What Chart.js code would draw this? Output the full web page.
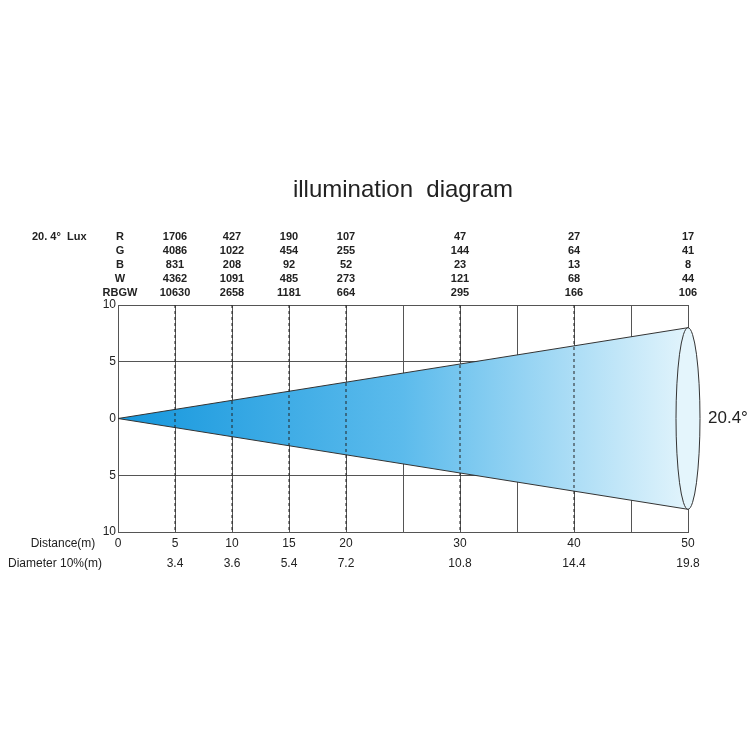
<!DOCTYPE html>
<html>
<head>
<meta charset="utf-8">
<script src="https://cdn.jsdelivr.net/npm/chart.js@4.4.0/dist/chart.umd.min.js"></script>
<style>
  body { margin: 0; background: #fff; }
  #wrap { width: 750px; height: 750px; }
</style>
</head>
<body>
<div id="wrap"><canvas id="c" width="750" height="750"></canvas></div>
<script>
// Beam table data
const distances = [5, 10, 15, 20, 30, 40, 50];
const luxR = [1706, 427, 190, 107, 47, 27, 17];
const luxG = [4086, 1022, 454, 255, 144, 64, 41];
const luxB = [831, 208, 92, 52, 23, 13, 8];
const luxW = [4362, 1091, 485, 273, 121, 68, 44];
const luxRBGW = [10630, 2658, 1181, 664, 295, 166, 106];
const diameters = ['3.4', '3.6', '5.4', '7.2', '10.8', '14.4', '19.8'];
const distanceTicks = [0, 5, 10, 15, 20, 30, 40, 50];
const yTicks = [10, 5, 0, -5, -10];
const coneTop = [{x: 0, y: 0}, {x: 50, y: 8}];
const coneBottom = [{x: 0, y: 0}, {x: 50, y: -8}];

const rows = [['R', luxR], ['G', luxG], ['B', luxB], ['W', luxW], ['RBGW', luxRBGW]];

function coneFill(context) {
    const a = context.chart.chartArea;
    if (!a) return '#5fbbec';
    const g = context.chart.ctx.createLinearGradient(a.left, 0, a.right, 0);
    g.addColorStop(0, '#1597dd');
    g.addColorStop(0.5, '#5cbbec');
    g.addColorStop(1, '#e2f4fc');
    return g;
}

const overlay = {
    id: 'overlay',
    afterDatasetsDraw(chart) {
        const ctx = chart.ctx, a = chart.chartArea;
        const xs = chart.scales.x, ys = chart.scales.y;
        ctx.save();
        // ellipse at far end
        const cx = xs.getPixelForValue(50);
        const ry = (ys.getPixelForValue(-8) - ys.getPixelForValue(8)) / 2;
        ctx.fillStyle = '#e4f5fc';
        ctx.strokeStyle = '#333';
        ctx.lineWidth = 1;
        ctx.beginPath();
        ctx.ellipse(cx, ys.getPixelForValue(0), 12, ry, 0, 0, Math.PI * 2);
        ctx.fill();
        ctx.stroke();
        // dashed distance lines
        ctx.setLineDash([3, 3]);
        ctx.strokeStyle = '#222';
        distances.slice(0, -1).forEach(d => {
            const x = xs.getPixelForValue(d);
            ctx.beginPath();
            ctx.moveTo(x, a.top);
            ctx.lineTo(x, a.bottom);
            ctx.stroke();
        });
        ctx.setLineDash([]);
        ctx.fillStyle = '#222';
        // y tick labels
        ctx.font = '12px Arial, "Liberation Sans"';
        ctx.textAlign = 'right';
        ctx.textBaseline = 'middle';
        yTicks.forEach(t => ctx.fillText(String(Math.abs(t)), a.left - 2, ys.getPixelForValue(t)));
        // distance row
        ctx.textAlign = 'center';
        ctx.fillText('Distance(m)', 63, 544);
        distanceTicks.forEach(d => ctx.fillText(String(d), xs.getPixelForValue(d), 544));
        ctx.fillText('Diameter 10%(m)', 55, 564);
        distances.forEach((d, i) => ctx.fillText(diameters[i], xs.getPixelForValue(d), 564));
        // lux table
        ctx.font = 'bold 11px Arial, "Liberation Sans"';
        ctx.textAlign = 'left';
        ctx.fillText('20. 4°  Lux', 32, 237);
        ctx.textAlign = 'center';
        rows.forEach((r, j) => {
            const y = 237 + j * 14;
            ctx.fillText(r[0], 120, y);
            r[1].forEach((v, i) => ctx.fillText(String(v), xs.getPixelForValue(distances[i]), y));
        });
        // title and angle
        ctx.font = '24px Arial, "Liberation Sans"';
        ctx.fillText('illumination  diagram', 403, 190);
        ctx.font = '17px Arial, "Liberation Sans"';
        ctx.textAlign = 'left';
        ctx.fillText('20.4°', 708, 418);
        ctx.restore();
    }
};

new Chart(document.getElementById('c'), {
    type: 'scatter',
    data: {
        datasets: [
            { data: coneBottom, showLine: true, borderColor: '#333', borderWidth: 1, pointRadius: 0, fill: false },
            { data: coneTop, showLine: true, borderColor: '#333', borderWidth: 1, pointRadius: 0, fill: '-1', backgroundColor: coneFill }
        ]
    },
    options: {
        responsive: false,
        animation: false,
        layout: { padding: { left: 118, right: 62, top: 305, bottom: 218 } },
        plugins: { legend: { display: false }, tooltip: { enabled: false } },
        scales: {
            x: {
                type: 'linear', min: 0, max: 50,
                ticks: { display: false, stepSize: 5 },
                grid: { color: '#555', drawTicks: false },
                border: { color: '#555' }
            },
            y: {
                type: 'linear', min: -10, max: 10,
                ticks: { display: false, stepSize: 5 },
                grid: { color: '#555', drawTicks: false },
                border: { color: '#555' }
            }
        }
    },
    plugins: [overlay]
});
</script>
</body>
</html>
